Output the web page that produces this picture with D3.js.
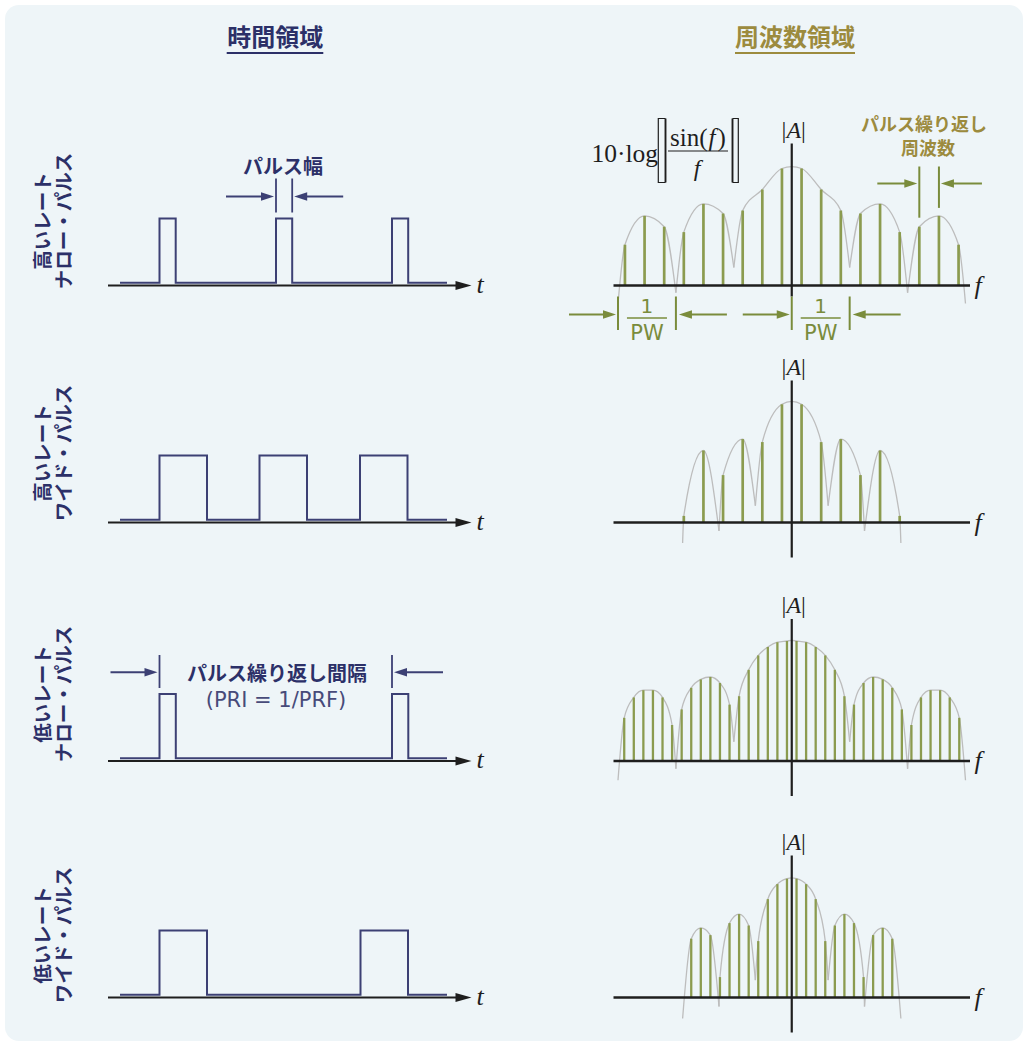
<!DOCTYPE html>
<html>
<head>
<meta charset="utf-8">
<script src="https://cdn.jsdelivr.net/npm/d3@7"></script>
<style>
  body { margin: 0; background: #fff; }
  svg { display: block; }
</style>
</head>
<body>
<svg id="chart"></svg>
<script>
// ── DONNÉES ───────────────────────────────────────────────────────────────
const headers = ['時間領域', '周波数領域'];
const rowLabels = [
  ['高いレート', 'ナロー・パルス'],
  ['高いレート', 'ワイド・パルス'],
  ['低いレート', 'ナロー・パルス'],
  ['低いレート', 'ワイド・パルス']
];

// domaine temporel (unités t arbitraires)
const pulseStarts = [[0, 11.65, 23.25], [0, 10.0, 20.05], [0, 23.25], [0, 20.1]];
const pulseWidths = [1.62, 4.75, 1.63, 4.75];

// domaine fréquentiel (unités f arbitraires)
const prfSpacing  = [2.05, 2.05, 1.0, 1.0];   // écart entre raies
const nullSpacing = [6.05, 3.8, 6.05, 3.8];   // 1/PW : écart entre zéros de l'enveloppe

// amplitudes des raies (0-100)
const ampHighNarrow = [34, 58, 49, 44.5, 68, 60, 62.5, 80, 97.5, 97.5, 80, 62.5, 60, 68, 44.5, 49, 58, 34];
const ampHighWide   = [5.5, 60, 39.5, 69.5, 67, 98.5, 98.5, 67, 69.5, 39.5, 60, 5.5];
const ampLowNarrow  = [36, 53, 59, 59, 53, 30, 43, 61, 68, 70, 65, 47, 54, 76, 88, 95, 99, 100,
                       100, 99, 95, 88, 76, 54, 47, 65, 70, 68, 61, 43, 30, 53, 59, 59, 53, 36];
const ampLowWide    = [49, 58, 52, 17, 62, 69.5, 60, 47, 82, 94.5, 99, 99, 94.5, 82, 47, 60, 69.5, 62, 17, 52, 58, 49];
const lineAmps = [ampHighNarrow, ampHighWide, ampLowNarrow, ampLowWide];

// enveloppe : niveau aux zéros ±1, ±2, ±3 et crête centrale
const nullDepths = [[15, -6, -15], [14, -7, -17], [16, -6.5, -16], [14.5, -7.5, -17.5]];
const peakAmps   = [99, 101, 100.5, 99.75];

// ── MISE EN PAGE ──────────────────────────────────────────────────────────
const W = 1028, H = 1046;
const base = [285.5, 522.5, 761, 997.5];
const labelY = [221, 453, 694, 935];
const NAVY = '#2c3068', LINE = '#3c4074', AXIS = '#1e1e1e', GOLD = '#9c8b3e',
      GREEN = '#7a8c3c', STEM = '#8b9b4f', ENV = '#bdbdbd';
const CJK = "'Noto Sans CJK JP', sans-serif", SANS = "'DejaVu Sans', sans-serif",
      SERIF = "'Liberation Serif', serif";

const svg = d3.select('#chart').attr('width', W).attr('height', H);
svg.append('rect').attr('width', W).attr('height', H).attr('fill', '#fff');
svg.append('rect').attr('x', 5).attr('y', 5).attr('width', 1018).attr('height', 1036)
  .attr('rx', 14).attr('fill', '#eef5f8');

const tX = d3.scaleLinear().domain([0, 10]).range([159.5, 259.5]);
const fX = d3.scaleLinear().domain([-18.62, 18.62]).range([613.5, 970]);

function arrowH(g, x0, x1, y, color, w, L, hw) {
  const dir = Math.sign(x1 - x0);
  L = L || 13; hw = hw || 4.5;
  g.append('line').attr('x1', x0).attr('x2', x1 - dir * L * 0.7).attr('y1', y).attr('y2', y)
    .attr('stroke', color).attr('stroke-width', w || 2);
  g.append('path').attr('d', `M${x1},${y}L${x1 - dir * L},${y - hw}L${x1 - dir * L},${y + hw}Z`)
    .attr('fill', color);
}
function vline(g, x, y0, y1, color, w) {
  g.append('line').attr('x1', x).attr('x2', x).attr('y1', y0).attr('y2', y1)
    .attr('stroke', color).attr('stroke-width', w || 2);
}

// ── EN-TÊTES ──────────────────────────────────────────────────────────────
[[275.3, NAVY, 226.7, 323.3], [795, GOLD, 735, 855]].forEach((h, i) => {
  svg.append('text').attr('x', h[0]).attr('y', 45.5).attr('text-anchor', 'middle')
    .attr('font-family', CJK).attr('font-weight', 700).attr('font-size', 24)
    .attr('fill', h[1]).text(headers[i]);
  svg.append('line').attr('x1', h[2]).attr('x2', h[3]).attr('y1', 53).attr('y2', 53)
    .attr('stroke', h[1]).attr('stroke-width', 2);
});

// ── LIBELLÉS DE LIGNE ─────────────────────────────────────────────────────
rowLabels.forEach((lab, i) => {
  const t = svg.append('text').attr('transform', `translate(49.5,${labelY[i]}) rotate(-90)`)
    .attr('text-anchor', 'middle').attr('font-family', CJK).attr('font-weight', 700)
    .attr('font-size', 19.5).attr('fill', NAVY);
  lab.forEach((s, j) => t.append('tspan').attr('x', 0).attr('y', j * 21).text(s));
});

// ── DOMAINE TEMPOREL ──────────────────────────────────────────────────────
base.forEach((b, i) => {
  const g = svg.append('g');
  const yT = d3.scaleLinear().domain([0, 1]).range([b - 2.7, b - 67]);
  arrowH(g, 108, 471.5, b, AXIS, 2.2, 16, 4.5);
  let d = `M120,${yT(0)}`;
  pulseStarts[i].forEach(s => {
    d += `H${tX(s)}V${yT(1)}H${tX(s + pulseWidths[i])}V${yT(0)}`;
  });
  d += 'H447';
  g.append('path').attr('d', d).attr('fill', 'none').attr('stroke', LINE).attr('stroke-width', 2);
  g.append('text').attr('x', 480).attr('y', b + 7).attr('text-anchor', 'middle')
    .attr('font-family', SERIF).attr('font-style', 'italic').attr('font-size', 26)
    .attr('fill', AXIS).text('t');
});

// Largeur d'impulsion (ligne 1)
{
  const b = base[0], g = svg.append('g');
  const xa = tX(pulseStarts[0][1]), xb = tX(pulseStarts[0][1] + pulseWidths[0]);
  vline(g, xa, b - 107, b - 73, LINE, 1.8);
  vline(g, xb, b - 107, b - 73, LINE, 1.8);
  arrowH(g, xa - 50, xa - 2, b - 89, LINE, 2, 13, 4.2);
  arrowH(g, xb + 51, xb + 2, b - 89, LINE, 2, 13, 4.2);
  g.append('text').attr('x', (xa + xb) / 2 - 1).attr('y', b - 112).attr('text-anchor', 'middle')
    .attr('font-family', CJK).attr('font-weight', 700).attr('font-size', 20)
    .attr('fill', NAVY).text('パルス幅');
}

// Intervalle de répétition (ligne 3)
{
  const b = base[2], g = svg.append('g');
  const xa = tX(pulseStarts[2][0]), xb = tX(pulseStarts[2][1]);
  vline(g, xa, b - 106, b - 73, LINE, 1.8);
  vline(g, xb, b - 106, b - 73, LINE, 1.8);
  arrowH(g, xa - 49, xa - 2, b - 88.7, LINE, 2, 13, 4.2);
  arrowH(g, xb + 51, xb + 2, b - 88.7, LINE, 2, 13, 4.2);
  g.append('text').attr('x', 277).attr('y', b - 80.5).attr('text-anchor', 'middle')
    .attr('font-family', CJK).attr('font-weight', 700).attr('font-size', 20)
    .attr('fill', NAVY).text('パルス繰り返し間隔');
  g.append('text').attr('x', 276).attr('y', b - 54).attr('text-anchor', 'middle')
    .attr('font-family', SANS).attr('font-size', 21)
    .attr('fill', '#474b7a').text('(PRI = 1/PRF)');
}

// ── DOMAINE FRÉQUENTIEL ───────────────────────────────────────────────────
const lineData = [];
base.forEach((b, i) => {
  const g = svg.append('g');
  const yA = d3.scaleLinear().domain([0, 100]).range([b, b - 120]);
  const amps = lineAmps[i], n = amps.length, sp = prfSpacing[i], nw = nullSpacing[i];
  const lines = amps.map((a, k) => ({ f: (k - n / 2 + 0.5) * sp, a }));
  lineData.push({ lines, yA });

  // enveloppe |sin(f)/f| par lobe
  const env = d3.line().x(p => fX(p.f)).y(p => yA(p.a)).curve(d3.curveMonotoneX);
  const bounds = [-3, -2, -1, 1, 2, 3];
  const depth = u => nullDepths[i][Math.abs(u) - 1];
  for (let j = 0; j < bounds.length - 1; j++) {
    const f0 = bounds[j] * nw, f1 = bounds[j + 1] * nw;
    const pts = lines.filter(p => p.f > f0 && p.f < f1);
    if (f0 < 0 && f1 > 0) pts.push({ f: 0, a: peakAmps[i] });
    pts.push({ f: f0, a: depth(bounds[j]) }, { f: f1, a: depth(bounds[j + 1]) });
    pts.sort((p, q) => p.f - q.f);
    g.append('path').attr('d', env(pts)).attr('fill', 'none')
      .attr('stroke', ENV).attr('stroke-width', 1.3);
  }

  // raies
  g.selectAll('.stem').data(lines).enter().append('line')
    .attr('x1', d => fX(d.f)).attr('x2', d => fX(d.f))
    .attr('y1', yA(0)).attr('y2', d => yA(d.a))
    .attr('stroke', STEM).attr('stroke-width', sp > 1.5 ? 2.7 : 2.3);

  // axes
  g.append('line').attr('x1', fX.range()[0]).attr('x2', fX.range()[1]).attr('y1', b).attr('y2', b)
    .attr('stroke', AXIS).attr('stroke-width', 2.3);
  vline(g, fX(0), b - 142, i === 0 ? b + 11 : b + 35, AXIS, 2.2);

  const aLab = g.append('text').attr('x', fX(0) + 2).attr('y', b - 148).attr('text-anchor', 'middle')
    .attr('font-family', SERIF).attr('font-size', 24).attr('fill', AXIS);
  aLab.append('tspan').text('|');
  aLab.append('tspan').attr('font-style', 'italic').text('A');
  aLab.append('tspan').text('|');

  g.append('text').attr('x', 978).attr('y', b + 8).attr('text-anchor', 'middle')
    .attr('font-family', SERIF).attr('font-style', 'italic').attr('font-size', 26)
    .attr('fill', AXIS).text('f');
});

// Annotations ligne 1 (fréquence)
{
  const b = base[0], g = svg.append('g');
  const { lines, yA } = lineData[0];

  // formule 10·log[|sin(f)/f|]
  g.append('text').attr('x', 591.5).attr('y', 161.5).attr('font-family', SERIF)
    .attr('font-size', 25.5).attr('fill', AXIS).text('10·log');
  const br = (xo, xi) => {
    g.append('path').attr('d', `M${xi},118.5H${xo}V182.5H${xi}`).attr('fill', 'none')
      .attr('stroke', AXIS).attr('stroke-width', 1.2);
    vline(g, xi, 118.5, 182.5, AXIS, 1.9);
  };
  br(658.3, 665.5);
  br(738.3, 732.5);
  const num = g.append('text').attr('x', 698).attr('y', 145.5).attr('text-anchor', 'middle')
    .attr('font-family', SERIF).attr('font-size', 25).attr('fill', AXIS);
  num.append('tspan').text('sin(');
  num.append('tspan').attr('font-style', 'italic').attr('dx', 1).text('f');
  num.append('tspan').attr('dx', 2).text(')');
  g.append('line').attr('x1', 668).attr('x2', 728).attr('y1', 151).attr('y2', 151)
    .attr('stroke', AXIS).attr('stroke-width', 1.2);
  g.append('text').attr('x', 697).attr('y', 176).attr('text-anchor', 'middle')
    .attr('font-family', SERIF).attr('font-style', 'italic').attr('font-size', 24)
    .attr('fill', AXIS).text('f');

  // fréquence de répétition
  const pa = lines[15], pb = lines[16];
  const xa = fX(pa.f), xb = fX(pb.f);
  vline(g, xa, b - 119, yA(pa.a) - 9, GREEN, 2);
  vline(g, xb, b - 119, yA(pb.a) - 8, GREEN, 2);
  arrowH(g, xa - 42, xa - 2, b - 102, GREEN, 2, 13, 4.3);
  arrowH(g, xb + 43, xb + 2, b - 102, GREEN, 2, 13, 4.3);
  [['パルス繰り返し', 924, 131], ['周波数', 928, 154.5]].forEach(([s, x, y]) => {
    g.append('text').attr('x', x).attr('y', y).attr('text-anchor', 'middle')
      .attr('font-family', CJK).attr('font-weight', 700).attr('font-size', 18)
      .attr('fill', GOLD).text(s);
  });

  // 1/PW
  const nw = nullSpacing[0];
  [[-3, -2], [0, 1]].forEach(([u0, u1]) => {
    const x0 = fX(u0 * nw), x1 = fX(u1 * nw), xm = (x0 + x1) / 2;
    vline(g, x0, b + 11, b + 44.5, GREEN, 2);
    vline(g, x1, b + 11, b + 44.5, GREEN, 2);
    arrowH(g, x0 - 49, x0 - 2, b + 29, GREEN, 2, 13, 4.3);
    arrowH(g, x1 + 51, x1 + 3, b + 29, GREEN, 2, 13, 4.3);
    g.append('text').attr('x', xm).attr('y', b + 27).attr('text-anchor', 'middle')
      .attr('font-family', SANS).attr('font-size', 20).attr('fill', GREEN).text('1');
    g.append('line').attr('x1', xm - 20).attr('x2', xm + 20).attr('y1', b + 32.5).attr('y2', b + 32.5)
      .attr('stroke', GREEN).attr('stroke-width', 1.6);
    g.append('text').attr('x', xm).attr('y', b + 54).attr('text-anchor', 'middle')
      .attr('font-family', SANS).attr('font-size', 21).attr('fill', GREEN).text('PW');
  });
}
</script>
</body>
</html>
